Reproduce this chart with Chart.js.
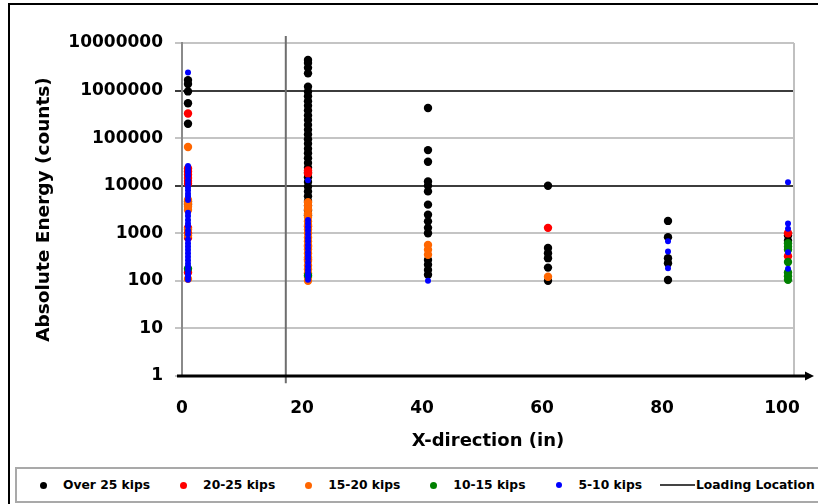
<!DOCTYPE html>
<html>
<head>
<meta charset="utf-8">
<script src="https://cdn.jsdelivr.net/npm/chart.js@4.4.1/dist/chart.umd.min.js"></script>
<style>
    html, body { margin: 0; padding: 0; background: #fff; overflow: hidden; }
    #wrap { position: relative; width: 818px; height: 504px; overflow: hidden; }
    .frame {
        position: absolute; left: 8px; top: 3px; width: 900px; height: 600px;
        border-left: 2px solid #000; border-top: 2px solid #000;
    }
    #chart { position: absolute; left: 0; top: 0; }
    .legend {
        position: absolute; left: 15px; top: 467px; width: 860px; height: 36px;
        box-sizing: border-box; border: 2px solid #a9a9a9; background: #fff;
        display: flex; align-items: center; padding-left: 23px;
        font: bold 12.3px "DejaVu Sans", sans-serif; color: #000; white-space: nowrap;
    }
    .item { display: flex; align-items: center; margin-right: 30px; }
    .dot { display: inline-block; border-radius: 50%; }
    .line { display: inline-block; width: 35px; height: 2px; background: #444; margin-right: 1px; }
</style>
</head>
<body>
<div id="wrap">
    <div class="frame"></div>
    <canvas id="chart" width="818" height="504"></canvas>
    <div class="legend" id="legend"></div>
</div>
<script>
// x position of each column of hits (in)
const xPositions = [1, 21, 41, 61, 81, 101];

// absolute energy (counts), one list per x position
const over25Kips = [
    [1660000, 1380000, 960000, 540000, 200000, 4600, 4000],
    [4400000, 3800000, 3000000, 2300000, 1200000, 950000, 760000, 600000, 480000, 380000, 300000,
        240000, 190000, 150000, 120000, 95000, 76000, 60000, 48000, 38000, 30000, 24000, 19000,
        15000, 12000, 9500, 7600, 6000, 4800, 3800, 3000, 2400],
    [430000, 56000, 32000, 12300, 10000, 7600, 4000, 2460, 1780, 1300, 1000, 275, 218, 170, 135],
    [10000, 490, 380, 300, 190, 100],
    [1820, 830, 300, 235, 104],
    [900, 700]
];
const kips20to25 = [
    [330000, 23000, 20000, 17000, 14500, 12500, 11000, 1300, 1000, 800, 150],
    [21000, 18000, 1400, 520, 280],
    [],
    [1300],
    [],
    [1000, 330]
];
const kips15to20 = [
    [65000, 5000, 4300, 3600, 3100, 1200, 900, 110],
    [4500, 3800, 3200, 2600, 2200, 1800, 1500, 1200, 1000, 820, 680, 560, 460, 380, 310, 260,
        210, 175, 145, 120, 100],
    [570, 450, 355],
    [122],
    [],
    []
];
const kips10to15 = [
    [180],
    [130],
    [],
    [],
    [],
    [620, 520, 450, 250, 150, 125, 105]
];
const kips5to10 = [
    [2400000, 26000, 22000, 19000, 16000, 13000, 11000, 9300, 8000, 6800, 5900, 5000, 2700, 2300, 1900,
        1600, 1400, 1150, 950, 740, 620, 530, 450, 380, 320, 270, 230, 195, 165, 140, 120, 105],
    [13000, 1900, 1600, 1350, 1150, 950, 800, 680, 570, 480, 400, 340, 290, 240, 200, 170, 145, 125, 105],
    [100],
    [],
    [680, 415, 185],
    [11800, 1600, 1250, 400, 180]
];

const loadingLocationX = 17.3;
const loadingLocationY = [0.7, 14000000];

const xTickValues = [0, 20, 40, 60, 80, 100];
const yTickValues = [1, 10, 100, 1000, 10000, 100000, 1000000, 10000000];
const darkGridValues = [10000, 1000000];

const series = [
    { label: 'Over 25 kips', data: over25Kips, color: '#000000', radius: 4.2, order: 4 },
    { label: '20-25 kips', data: kips20to25, color: '#ff0000', radius: 4.2, order: 3 },
    { label: '15-20 kips', data: kips15to20, color: '#ff6600', radius: 4.2, order: 2 },
    { label: '10-15 kips', data: kips10to15, color: '#008000', radius: 4.2, order: 1 },
    { label: '5-10 kips', data: kips5to10, color: '#0000ff', radius: 3, order: 0 }
];

const toPoints = (columns) => columns.flatMap((values, index) =>
    values.map((y) => ({ x: xPositions[index], y })));

const datasets = series.map((s) => ({
    label: s.label,
    data: toPoints(s.data),
    backgroundColor: s.color,
    borderColor: s.color,
    pointRadius: s.radius,
    pointBorderWidth: 0,
    order: s.order
}));

datasets.push({
    label: 'Loading Location',
    data: loadingLocationY.map((y) => ({ x: loadingLocationX, y })),
    showLine: true,
    borderColor: '#6e6e6e',
    borderWidth: 2,
    pointRadius: 0,
    clip: false,
    order: 10
});

const axisFont = { family: '"DejaVu Sans", sans-serif', size: 17, weight: 'bold' };
const titleFont = { family: '"DejaVu Sans", sans-serif', size: 18, weight: 'bold' };

// right edge of the plot and the black x axis with its arrow
const plotFrame = {
    id: 'plotFrame',
    beforeDatasetsDraw(chart) {
        const { ctx, chartArea } = chart;
        ctx.save();
        ctx.strokeStyle = '#c0c0c0';
        ctx.lineWidth = 2;
        ctx.beginPath();
        ctx.moveTo(chartArea.right, chartArea.top);
        ctx.lineTo(chartArea.right, chartArea.bottom);
        ctx.stroke();
        ctx.restore();
    },
    afterDatasetsDraw(chart) {
        const { ctx, chartArea, width } = chart;
        const y = chart.scales.y.getPixelForValue(yTickValues[0]);
        const end = width - 4;
        ctx.save();
        ctx.strokeStyle = '#000';
        ctx.fillStyle = '#000';
        ctx.lineWidth = 3;
        ctx.beginPath();
        ctx.moveTo(chartArea.left - 5, y);
        ctx.lineTo(end - 6, y);
        ctx.stroke();
        ctx.beginPath();
        ctx.moveTo(end, y);
        ctx.lineTo(end - 9, y - 4.5);
        ctx.lineTo(end - 9, y + 4.5);
        ctx.closePath();
        ctx.fill();
        ctx.restore();
    }
};

new Chart(document.getElementById('chart'), {
    type: 'scatter',
    data: { datasets },
    options: {
        responsive: false,
        animation: false,
        layout: { padding: { left: 33, top: 43, right: 24, bottom: 52 } },
        plugins: {
            legend: { display: false },
            tooltip: { enabled: false }
        },
        scales: {
            x: {
                type: 'linear',
                min: 0,
                max: 102,
                afterBuildTicks: (scale) => { scale.ticks = xTickValues.map((value) => ({ value })); },
                afterFit: (scale) => { scale.height = 76; },
                grid: { display: true, drawOnChartArea: false, tickLength: 14, tickColor: 'rgba(0,0,0,0)' },
                border: { display: false },
                ticks: { padding: 8, font: axisFont, color: '#000', maxRotation: 0 },
                title: { display: true, text: 'X-direction (in)', font: titleFont, color: '#000', padding: 0 }
            },
            y: {
                type: 'logarithmic',
                min: 1,
                max: 10000000,
                afterBuildTicks: (scale) => { scale.ticks = yTickValues.map((value) => ({ value })); },
                afterFit: (scale) => { scale.width = 149; },
                grid: {
                    color: (ctx) => darkGridValues.includes(ctx.tick && ctx.tick.value) ? '#3c3c3c' : '#c4c4c4',
                    lineWidth: 2,
                    tickLength: 7
                },
                border: { color: '#8a8a8a', width: 2 },
                ticks: { padding: 12, font: axisFont, color: '#000', callback: (value) => String(value) },
                title: { display: true, text: 'Absolute Energy (counts)', font: { ...titleFont, size: 18.5 }, color: '#000', padding: 0 }
            }
        }
    },
    plugins: [plotFrame]
});

// boxed legend along the bottom
const legend = document.getElementById('legend');
series.forEach((s) => {
    const item = document.createElement('span');
    item.className = 'item';
    const dot = document.createElement('i');
    dot.className = 'dot';
    const size = Math.min(s.radius * 2, 7);
    dot.style.width = size + 'px';
    dot.style.height = size + 'px';
    dot.style.background = s.color;
    dot.style.marginLeft = ((7 - size) / 2) + 'px';
    dot.style.marginRight = (16 + (7 - size) / 2) + 'px';
    item.appendChild(dot);
    item.appendChild(document.createTextNode(s.label));
    legend.appendChild(item);
});
const lineItem = document.createElement('span');
lineItem.className = 'item';
lineItem.style.marginLeft = '-12px';
const line = document.createElement('i');
line.className = 'line';
lineItem.appendChild(line);
lineItem.appendChild(document.createTextNode('Loading Location'));
legend.appendChild(lineItem);
</script>
</body>
</html>
